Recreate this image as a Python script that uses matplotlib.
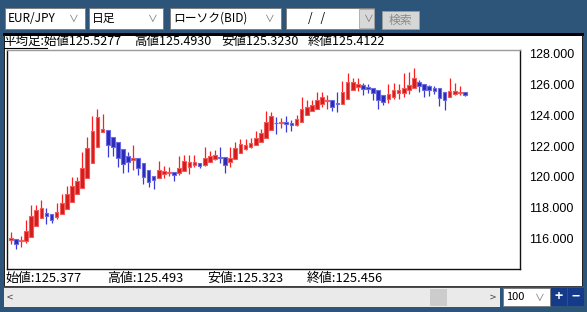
import matplotlib
matplotlib.use("Agg")
import matplotlib.pyplot as plt
from matplotlib.patches import Rectangle
import numpy as np

plt.rcParams['font.family'] = ['Noto Sans CJK JP', 'DejaVu Sans']

# ---------------- data ----------------
opens = [115.85, 115.93, 115.78, 115.78, 116.08, 116.78, 117.28, 117.63, 117.56, 117.37,
         117.56, 117.89, 118.37, 118.87, 119.28, 119.93, 120.91, 121.91, 122.89, 123.04,
         122.56, 122.26, 121.78, 121.32, 121.11, 121.19, 120.87, 120.43, 120.06, 119.93,
         120.15, 120.24, 120.30, 120.22, 120.37, 120.65, 120.78, 120.89, 120.76, 120.98,
         121.17, 121.30, 121.26, 120.98, 121.13, 121.52, 121.78, 121.91, 122.04, 122.26,
         122.50, 123.04, 123.52, 123.48, 123.56, 123.50, 123.39, 123.59, 124.00, 124.26,
         124.43, 124.72, 124.93, 124.98, 124.82, 124.74, 125.09, 125.65, 125.87, 126.00,
         125.85, 125.78, 125.63, 125.35, 125.06, 125.22, 125.43, 125.48, 125.65, 125.80,
         126.15, 126.06, 125.91, 125.80, 125.76, 125.50, 125.20, 125.39, 125.48, 125.52]
highs = [116.37, 115.93, 116.13, 117.17, 118.15, 118.17, 118.48, 117.93, 117.56, 118.28,
         118.87, 119.39, 119.95, 119.95, 121.61, 122.61, 123.96, 124.43, 124.09, 123.04,
         122.56, 122.26, 121.78, 121.63, 122.04, 121.19, 120.87, 120.43, 120.06, 121.04,
         120.69, 120.61, 120.30, 121.32, 121.41, 121.41, 121.43, 120.89, 121.91, 121.67,
         121.74, 121.91, 121.26, 121.91, 122.28, 122.46, 122.43, 122.54, 122.96, 123.13,
         124.26, 124.22, 123.91, 123.85, 123.93, 123.69, 124.04, 125.22, 125.00, 124.98,
         125.50, 125.54, 125.33, 124.98, 125.50, 126.22, 126.74, 126.46, 126.46, 126.09,
         126.04, 125.78, 125.63, 125.35, 126.04, 126.13, 126.06, 126.78, 126.83, 127.06,
         126.30, 126.06, 125.98, 125.93, 125.76, 125.50, 126.46, 126.11, 125.89, 125.52]
lows = [115.60, 115.26, 115.39, 115.65, 116.08, 116.78, 117.28, 116.93, 117.00, 117.21,
        117.56, 117.89, 118.37, 118.87, 119.28, 119.93, 120.91, 121.91, 122.89, 121.26,
        121.35, 120.61, 120.22, 120.28, 120.43, 120.11, 119.50, 119.35, 119.19, 119.93,
        119.91, 120.04, 119.74, 120.11, 120.37, 120.17, 120.65, 120.54, 120.69, 120.96,
        121.09, 120.87, 120.22, 120.65, 121.13, 121.52, 121.74, 121.85, 122.04, 122.26,
        122.50, 123.04, 122.76, 123.15, 122.93, 123.00, 123.30, 123.59, 124.00, 124.26,
        124.43, 124.56, 124.39, 124.28, 124.24, 124.74, 125.09, 125.65, 125.61, 125.30,
        125.43, 125.00, 124.39, 124.65, 124.82, 125.06, 125.06, 125.17, 125.37, 125.80,
        125.50, 125.22, 125.26, 125.39, 124.63, 124.35, 125.20, 125.30, 125.33, 125.28]
closes = [115.98, 115.63, 115.85, 116.43, 117.45, 117.80, 117.98, 117.45, 117.19, 117.71,
          118.28, 118.87, 119.39, 119.69, 120.56, 121.87, 122.95, 123.87, 123.11, 122.06,
          121.96, 121.19, 120.85, 120.93, 121.24, 120.56, 120.00, 119.67, 119.78, 120.41,
          120.35, 120.30, 120.13, 120.59, 121.00, 120.96, 120.96, 120.69, 121.22, 121.37,
          121.41, 121.24, 120.74, 121.24, 121.87, 122.11, 122.06, 122.19, 122.50, 122.85,
          123.56, 123.93, 123.48, 123.56, 123.43, 123.35, 123.78, 124.41, 124.52, 124.65,
          125.00, 125.17, 125.00, 124.52, 124.72, 125.52, 126.15, 126.15, 126.04, 125.70,
          125.70, 125.43, 125.00, 124.89, 125.39, 125.65, 125.65, 125.80, 126.00, 126.46,
          125.93, 125.67, 125.65, 125.61, 125.13, 124.98, 125.59, 125.61, 125.54, 125.35]

y_ticks = [116, 118, 120, 122, 124, 126, 128]
y_tick_labels = ["116.000", "118.000", "120.000", "122.000", "124.000", "126.000", "128.000"]

header_parts = ["平均足:始値125.5277", "高値125.4930", "安値125.3230", "終値125.4122"]
footer_parts = ["始値:125.377", "高値:125.493", "安値:125.323", "終値:125.456"]
toolbar_labels = ["EUR/JPY", "日足", "ローソク(BID)", "/   /"]
search_label = "検索"
zoom_label = "100"

# ---------------- figure ----------------
W, H = 587, 312
fig = plt.figure(figsize=(W / 100, H / 100), dpi=100)
BG = "#2d5479"
fig.patch.set_facecolor(BG)


def fx(x):
    return x / W


def fy(y):
    return 1 - y / H


def rect(x0, y0, x1, y1, fc, ec="none", lw=0, z=0.5):
    fig.add_artist(Rectangle((fx(x0), fy(y1)), (x1 - x0) / W, (y1 - y0) / H,
                             transform=fig.transFigure, facecolor=fc,
                             edgecolor=ec, linewidth=lw, zorder=z))


def text(x, y, s, size=9, color="black", ha="left", z=3, **kw):
    fig.text(fx(x), fy(y), s, fontsize=size, color=color, ha=ha, va="center",
             zorder=z, **kw)


# white content panel
rect(4, 35, 582, 286, "white")
rect(3, 32.5, 584, 35.5, "black", z=0.6)
rect(581.5, 35, 582.5, 286, "#202020", z=0.6)
rect(4, 35, 5, 286, "#202020", z=0.6)
rect(4, 285.5, 582, 286.5, "#404040", z=0.6)

# toolbar boxes
boxes = [(4.5, 85), (89, 163), (170, 281), (286, 374)]
label_x = [7.5, 92, 173, 308]
chev = [74, 153, 270, 369]
for (x0, x1), lab, lx in zip(boxes, toolbar_labels, label_x):
    rect(x0, 7.5, x1, 29, "white", ec="#7a7a7a", lw=0.6)
    text(lx, 18.5, lab, size=8.5)
rect(358.5, 8.5, 373.5, 28, "#d8d8d8", ec="#9a9a9a", lw=0.5, z=0.7)
for cx in chev:
    text(cx, 18.5, "∨", size=7, color="#707070", ha="center")
rect(382, 11.5, 419, 28.5, "#d6d6d6", ec="#9a9a9a", lw=0.6)
text(400.5, 20, search_label, size=8.5, color="#8a8a8a", ha="center")

# header text
hx = [3.7, 134, 221, 308]
for x, s in zip(hx, header_parts):
    text(x, 41.5, s, size=9)
fig.add_artist(plt.Line2D([fx(3.5), fx(47)], [fy(48), fy(48)],
                          transform=fig.transFigure, color="black", lw=0.8, zorder=3))

# footer text
fxs = [5, 107, 207, 307]
for x, s in zip(fxs, footer_parts):
    text(x, 278.5, s, size=9.3)

# scrollbar
rect(4, 288, 500, 307, "#eaeaea")
rect(430, 289, 447, 306, "#cccccc", z=0.7)
text(10, 297.5, "<", size=8, color="#444444", ha="center")
text(493, 297.5, ">", size=8, color="#444444", ha="center")
rect(503, 288, 549.5, 306, "white", ec="#7a7a7a", lw=0.6)
text(506, 297, zoom_label, size=8)
text(540, 297.5, "∨", size=7, color="#707070", ha="center")
rect(551, 288, 567, 306, "#153a8a")
rect(568, 288, 584, 306, "#153a8a")
text(559, 297, "+", size=10, color="white", ha="center", weight="bold")
text(576, 297, "−", size=10, color="white", ha="center", weight="bold")

# ---------------- chart axes ----------------
left, right, top, bottom = 7.3, 520.3, 49.7, 268.7
ax = fig.add_axes([fx(left), fy(bottom), (right - left) / W, (bottom - top) / H])
ax.set_zorder(2)
ax.set_facecolor("white")

n = len(opens)
xs = np.arange(n)
bw = 0.72
for i in range(n):
    o, h, l, c = opens[i], highs[i], lows[i], closes[i]
    up = c >= o
    wick = "#ff1e1e" if up else "#3a3ad6"
    face = "#d41c1c" if up else "#2a2ab4"
    edge = "#f25a5a" if up else "#6a6ae4"
    ax.vlines(xs[i], l, h, color=wick, linewidth=0.9, zorder=2)
    lo, hi = min(o, c), max(o, c)
    hgt = max(hi - lo, 0.05)
    ax.add_patch(Rectangle((xs[i] - bw / 2, lo), bw, hgt, facecolor=face,
                           edgecolor=edge, linewidth=0.8, zorder=3))

ax.set_xlim(-0.67, 99.84)
ax.set_ylim(114.0, 128.28)
ax.set_xticks([])
ax.yaxis.tick_right()
ax.set_yticks(y_ticks)
ax.set_yticklabels(y_tick_labels, fontsize=9, family=["Liberation Sans", "DejaVu Sans"])
ax.tick_params(axis="y", length=0, pad=6)
for s in ["left", "right", "bottom"]:
    ax.spines[s].set_color("#111111")
    ax.spines[s].set_linewidth(1.0)
ax.spines["top"].set_color("#9a9a9a")
ax.spines["top"].set_linewidth(1.0)

fig.savefig("out.png", dpi=100, facecolor=fig.get_facecolor())
